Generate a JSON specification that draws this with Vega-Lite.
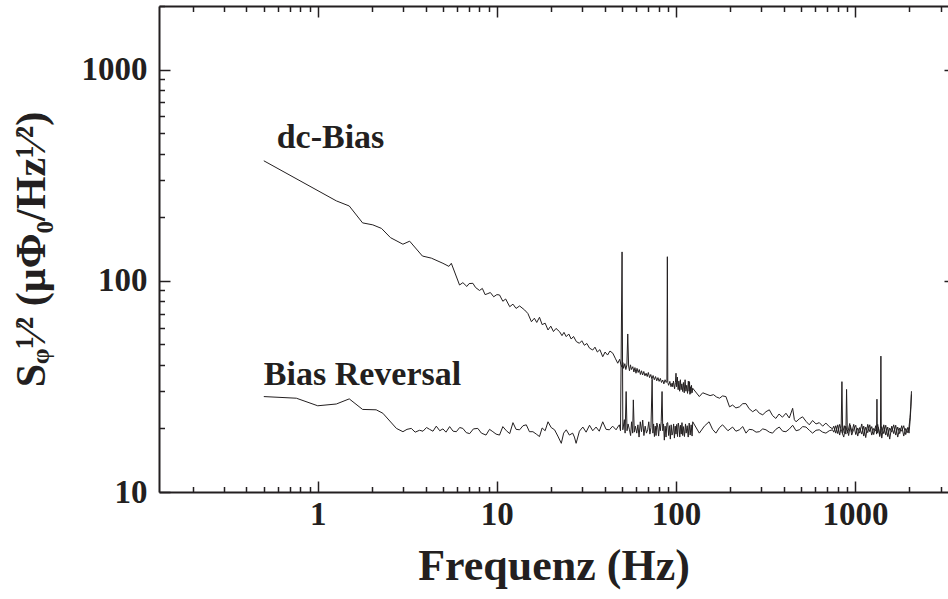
{
  "$schema": "https://vega.github.io/schema/vega-lite/v6.json",
  "width": 789,
  "height": 486,
  "autosize": {"type": "none"},
  "padding": {"left": 159, "top": 6, "right": 0, "bottom": 107},
  "background": "white",
  "config": {
    "view": {"stroke": null},
    "axis": {
      "grid": false,
      "domainColor": "#231f20",
      "domainWidth": 2,
      "tickColor": "#231f20",
      "tickWidth": 1.5,
      "labelFont": "Liberation Serif",
      "labelFontWeight": "bold",
      "labelFontSize": 33,
      "labelColor": "#231f20",
      "titleFont": "Liberation Serif",
      "titleFontWeight": "bold",
      "titleColor": "#231f20"
    }
  },
  "datasets": {
    "spec": [
      {"s":"dc","f":0.5,"v":370},{"s":"dc","f":1.27,"v":239},{"s":"dc","f":1.5,"v":226},{"s":"dc","f":1.78,"v":188},{"s":"dc","f":2.03,"v":184},{"s":"dc","f":2.27,"v":177},{"s":"dc","f":2.55,"v":160},{"s":"dc","f":2.99,"v":149},{"s":"dc","f":3.26,"v":154},{"s":"dc","f":3.84,"v":131},{"s":"dc","f":4.31,"v":128},{"s":"dc","f":5.0,"v":121},{"s":"dc","f":5.4,"v":117},{"s":"dc","f":5.57,"v":121},{"s":"dc","f":6.19,"v":95.5},{"s":"dc","f":6.46,"v":98},{"s":"dc","f":6.8,"v":94},{"s":"dc","f":7.0,"v":97},{"s":"dc","f":7.35,"v":97.3},{"s":"dc","f":7.6,"v":93},{"s":"dc","f":8.0,"v":90},{"s":"dc","f":8.3,"v":92},{"s":"dc","f":8.6,"v":86},{"s":"dc","f":8.91,"v":87},{"s":"dc","f":9.2,"v":88},{"s":"dc","f":9.6,"v":84},{"s":"dc","f":10.0,"v":86},
      {"s":"dc","f":10.35,"v":85.7},{"s":"dc","f":10.8,"v":80},{"s":"dc","f":11.2,"v":82},{"s":"dc","f":11.8,"v":75.4},{"s":"dc","f":12.3,"v":77.5},{"s":"dc","f":12.8,"v":74},{"s":"dc","f":13.4,"v":76},{"s":"dc","f":14.3,"v":72.7},{"s":"dc","f":14.9,"v":70},{"s":"dc","f":15.6,"v":64},{"s":"dc","f":16.2,"v":66.5},{"s":"dc","f":16.7,"v":63.5},{"s":"dc","f":17.3,"v":67.2},{"s":"dc","f":17.9,"v":62},{"s":"dc","f":18.6,"v":63},{"s":"dc","f":19.3,"v":58.5},{"s":"dc","f":20.0,"v":61},{"s":"dc","f":20.7,"v":57.5},{"s":"dc","f":21.4,"v":59.5},{"s":"dc","f":22.4,"v":57.4},{"s":"dc","f":23.1,"v":55},{"s":"dc","f":23.7,"v":57},{"s":"dc","f":24.4,"v":54.4},{"s":"dc","f":25.2,"v":56},{"s":"dc","f":26,"v":53},{"s":"dc","f":26.8,"v":54.5},{"s":"dc","f":27.8,"v":51.5},{"s":"dc","f":28.9,"v":50.6},{"s":"dc","f":29.8,"v":52},{"s":"dc","f":30.8,"v":49.5},{"s":"dc","f":31.8,"v":50.5},{"s":"dc","f":32.9,"v":48},{"s":"dc","f":34.3,"v":47},{"s":"dc","f":35.3,"v":48.5},{"s":"dc","f":36.4,"v":46},{"s":"dc","f":37.6,"v":47.2},{"s":"dc","f":39.0,"v":43.7},{"s":"dc","f":40.2,"v":46},{"s":"dc","f":41.5,"v":44.5},{"s":"dc","f":42.8,"v":46.5},{"s":"dc","f":44.4,"v":45.4},{"s":"dc","f":45.8,"v":43},{"s":"dc","f":47.3,"v":40.7},{"s":"dc","f":48.5,"v":42.5},{"s":"dc","f":49.3,"v":40},
      {"s":"dc","f":50,"v":39},{"s":"dc","f":50.5,"v":41},{"s":"dc","f":51,"v":38.5},{"s":"dc","f":51.8,"v":40.5},{"s":"dc","f":52.5,"v":38},{"s":"dc","f":53.2,"v":40},{"s":"dc","f":53.8,"v":56},{"s":"dc","f":54.4,"v":39.5},{"s":"dc","f":55,"v":37.5},{"s":"dc","f":55.7,"v":40},{"s":"dc","f":56.4,"v":38},{"s":"dc","f":57.4,"v":39.2},{"s":"dc","f":58.2,"v":37},{"s":"dc","f":59,"v":38.8},{"s":"dc","f":59.8,"v":36.5},{"s":"dc","f":60.6,"v":38.5},{"s":"dc","f":61.5,"v":36.8},{"s":"dc","f":62.4,"v":38},{"s":"dc","f":63.3,"v":36},{"s":"dc","f":64.2,"v":37.5},{"s":"dc","f":65.1,"v":35.8},{"s":"dc","f":66.1,"v":37.2},{"s":"dc","f":67.1,"v":35.5},{"s":"dc","f":68.1,"v":36.5},{"s":"dc","f":69.1,"v":35.2},{"s":"dc","f":70.1,"v":36.8},{"s":"dc","f":71.2,"v":34.8},{"s":"dc","f":72.3,"v":36},{"s":"dc","f":73.4,"v":34.3},{"s":"dc","f":74.5,"v":35.6},{"s":"dc","f":75.7,"v":34},{"s":"dc","f":76.9,"v":35.2},{"s":"dc","f":78.1,"v":33.6},{"s":"dc","f":79.3,"v":34.8},{"s":"dc","f":80.5,"v":33.4},{"s":"dc","f":81.8,"v":34.5},{"s":"dc","f":83,"v":33},{"s":"dc","f":84.3,"v":33.9},{"s":"dc","f":85.6,"v":32.5},{"s":"dc","f":86.9,"v":34},{"s":"dc","f":88.2,"v":33},{"s":"dc","f":89,"v":33.5},{"s":"dc","f":89.5,"v":130},{"s":"dc","f":90,"v":33},{"s":"dc","f":91,"v":32},{"s":"dc","f":92.4,"v":33.4},{"s":"dc","f":93.8,"v":31.5},{"s":"dc","f":95.2,"v":32.8},{"s":"dc","f":95.9,"v":31.5},{"s":"dc","f":96.8,"v":33.5},{"s":"dc","f":98.2,"v":30.8},{"s":"dc","f":99.3,"v":33},{"s":"dc","f":100,"v":36.5},{"s":"dc","f":100.8,"v":31.5},{"s":"dc","f":101.8,"v":35},{"s":"dc","f":102.8,"v":30.5},{"s":"dc","f":103.8,"v":33.5},{"s":"dc","f":104.8,"v":30},{"s":"dc","f":105.8,"v":34},{"s":"dc","f":106.8,"v":30.5},{"s":"dc","f":107.8,"v":32.5},{"s":"dc","f":109,"v":29.9},{"s":"dc","f":110,"v":33},{"s":"dc","f":111.2,"v":29.5},{"s":"dc","f":112.4,"v":34},{"s":"dc","f":113.6,"v":30},{"s":"dc","f":114.8,"v":32},{"s":"dc","f":116,"v":29.3},{"s":"dc","f":117.2,"v":33.5},{"s":"dc","f":118.4,"v":30},{"s":"dc","f":119,"v":33.3},{"s":"dc","f":119.6,"v":29},{"s":"dc","f":120.5,"v":31.5},{"s":"dc","f":121,"v":29.3},{"s":"dc","f":122,"v":32},{"s":"dc","f":123,"v":29.5},{"s":"dc","f":124,"v":31},
      {"s":"dc","f":135,"v":28.3},{"s":"dc","f":141,"v":29.5},{"s":"dc","f":147,"v":29.1},{"s":"dc","f":155,"v":28.6},{"s":"dc","f":162,"v":28.9},{"s":"dc","f":168,"v":28.2},{"s":"dc","f":175,"v":27.8},{"s":"dc","f":182,"v":28.5},{"s":"dc","f":190,"v":28.3},{"s":"dc","f":199,"v":25.3},{"s":"dc","f":207,"v":25.8},{"s":"dc","f":216,"v":25.0},{"s":"dc","f":226,"v":25.3},{"s":"dc","f":236,"v":26.2},{"s":"dc","f":246,"v":26.2},{"s":"dc","f":256,"v":24.8},{"s":"dc","f":268,"v":24.0},{"s":"dc","f":280,"v":24.6},{"s":"dc","f":292,"v":23.6},{"s":"dc","f":305,"v":23.2},{"s":"dc","f":318,"v":24.0},{"s":"dc","f":332,"v":24.5},{"s":"dc","f":346,"v":23.0},{"s":"dc","f":361,"v":22.3},{"s":"dc","f":376,"v":23.4},{"s":"dc","f":393,"v":22.6},{"s":"dc","f":411,"v":23.6},{"s":"dc","f":429,"v":22.4},{"s":"dc","f":448,"v":24.9},{"s":"dc","f":458,"v":22.0},{"s":"dc","f":468,"v":21.5},{"s":"dc","f":488,"v":22.2},{"s":"dc","f":509,"v":22.7},{"s":"dc","f":532,"v":21.6},{"s":"dc","f":555,"v":20.8},{"s":"dc","f":579,"v":21.8},{"s":"dc","f":605,"v":21.0},{"s":"dc","f":631,"v":21.3},{"s":"dc","f":659,"v":20.5},{"s":"dc","f":687,"v":21.2},{"s":"dc","f":717,"v":20.4},{"s":"dc","f":748,"v":19.9},
      {"s":"dc","f":760,"v":20.5},{"s":"dc","f":780,"v":19.0},{"s":"dc","f":800,"v":20.8},{"s":"dc","f":820,"v":18.6},{"s":"dc","f":836,"v":20.3},{"s":"dc","f":844,"v":33.3},{"s":"dc","f":852,"v":19.0},{"s":"dc","f":870,"v":20.6},{"s":"dc","f":888,"v":18.8},{"s":"dc","f":896,"v":30.6},{"s":"dc","f":904,"v":19.8},{"s":"dc","f":920,"v":18.5},{"s":"dc","f":940,"v":20.7},{"s":"dc","f":960,"v":19.2},{"s":"dc","f":982,"v":20.9},{"s":"dc","f":1008,"v":18.7},{"s":"dc","f":1034,"v":20.1},{"s":"dc","f":1061,"v":19.0},{"s":"dc","f":1089,"v":21.0},{"s":"dc","f":1117,"v":18.4},{"s":"dc","f":1146,"v":20.3},{"s":"dc","f":1176,"v":19.1},{"s":"dc","f":1207,"v":20.8},{"s":"dc","f":1238,"v":18.6},{"s":"dc","f":1270,"v":20.0},{"s":"dc","f":1303,"v":19.5},{"s":"dc","f":1337,"v":20.9},{"s":"dc","f":1372,"v":18.5},{"s":"dc","f":1408,"v":20.4},{"s":"dc","f":1445,"v":18.9},{"s":"dc","f":1482,"v":20.7},{"s":"dc","f":1521,"v":18.3},{"s":"dc","f":1560,"v":20.1},{"s":"dc","f":1601,"v":19.2},{"s":"dc","f":1642,"v":20.8},{"s":"dc","f":1685,"v":18.6},{"s":"dc","f":1729,"v":20.3},{"s":"dc","f":1774,"v":18.9},{"s":"dc","f":1820,"v":20.6},{"s":"dc","f":1868,"v":18.4},{"s":"dc","f":1916,"v":20.0},{"s":"dc","f":1966,"v":19.1},{"s":"dc","f":2000,"v":20.4},{"s":"dc","f":2025,"v":22.5},{"s":"dc","f":2045,"v":25.5},{"s":"dc","f":2063,"v":30},

      {"s":"br","f":0.5,"v":28.3},{"s":"br","f":0.76,"v":27.8},{"s":"br","f":1.0,"v":25.6},{"s":"br","f":1.27,"v":26.1},{"s":"br","f":1.5,"v":27.6},{"s":"br","f":1.78,"v":24.6},{"s":"br","f":2.12,"v":24.5},{"s":"br","f":2.31,"v":23.6},{"s":"br","f":2.75,"v":20.0},{"s":"br","f":2.99,"v":19.3},{"s":"br","f":3.15,"v":19.8},{"s":"br","f":3.33,"v":20.0},{"s":"br","f":3.5,"v":19.2},{"s":"br","f":3.7,"v":19.6},{"s":"br","f":3.87,"v":19.4},{"s":"br","f":4.05,"v":20.2},{"s":"br","f":4.21,"v":19.8},{"s":"br","f":4.4,"v":19.4},{"s":"br","f":4.59,"v":20.5},{"s":"br","f":4.8,"v":19.5},{"s":"br","f":5.0,"v":19.9},{"s":"br","f":5.2,"v":19.2},{"s":"br","f":5.45,"v":20.4},{"s":"br","f":5.7,"v":19.4},{"s":"br","f":5.94,"v":19.3},{"s":"br","f":6.2,"v":20.2},{"s":"br","f":6.46,"v":20.0},{"s":"br","f":6.75,"v":19.1},{"s":"br","f":7.05,"v":18.9},{"s":"br","f":7.4,"v":19.9},{"s":"br","f":7.83,"v":20.0},{"s":"br","f":8.2,"v":19.0},{"s":"br","f":8.7,"v":18.6},{"s":"br","f":9.1,"v":19.8},{"s":"br","f":9.5,"v":19.3},{"s":"br","f":9.9,"v":18.8},
      {"s":"br","f":10.35,"v":18.6},{"s":"br","f":10.8,"v":20.4},{"s":"br","f":11.3,"v":19.5},{"s":"br","f":11.8,"v":18.9},{"s":"br","f":12.3,"v":21.3},{"s":"br","f":12.8,"v":19.8},{"s":"br","f":13.4,"v":19.7},{"s":"br","f":14,"v":20.6},{"s":"br","f":14.6,"v":20.8},{"s":"br","f":15.2,"v":19.3},{"s":"br","f":15.9,"v":19.3},{"s":"br","f":16.6,"v":18.8},{"s":"br","f":17.3,"v":18.3},{"s":"br","f":17.9,"v":20.1},{"s":"br","f":18.6,"v":19.5},{"s":"br","f":19.3,"v":21.5},{"s":"br","f":20.1,"v":20.2},{"s":"br","f":21,"v":19.7},{"s":"br","f":21.9,"v":18.4},{"s":"br","f":22.9,"v":17},{"s":"br","f":23.6,"v":19},{"s":"br","f":24.4,"v":19.7},{"s":"br","f":25.4,"v":18.6},{"s":"br","f":26.5,"v":19},{"s":"br","f":27.1,"v":18.2},{"s":"br","f":27.7,"v":17},{"s":"br","f":28.9,"v":19.4},{"s":"br","f":30.2,"v":20.3},{"s":"br","f":31.5,"v":19.2},{"s":"br","f":32.9,"v":20.7},{"s":"br","f":34.3,"v":19.5},{"s":"br","f":35.8,"v":20.3},{"s":"br","f":37.3,"v":19.4},{"s":"br","f":39,"v":21.5},{"s":"br","f":40.7,"v":19.8},{"s":"br","f":42.5,"v":19.7},{"s":"br","f":44.3,"v":20.5},{"s":"br","f":46.3,"v":19.7},{"s":"br","f":47.3,"v":20.3},
      {"s":"br","f":48.3,"v":20.8},{"s":"br","f":49,"v":19.5},{"s":"br","f":50,"v":137},{"s":"br","f":50.5,"v":19.7},{"s":"br","f":51.5,"v":22},{"s":"br","f":52,"v":19},{"s":"br","f":52.7,"v":29.9},{"s":"br","f":53.3,"v":19.5},{"s":"br","f":54,"v":21},{"s":"br","f":55,"v":19.7},{"s":"br","f":55.8,"v":18.5},{"s":"br","f":56.5,"v":21.5},{"s":"br","f":57.3,"v":19},{"s":"br","f":57.8,"v":27.3},{"s":"br","f":58.5,"v":19.2},{"s":"br","f":59.3,"v":20.5},{"s":"br","f":60.4,"v":19},{"s":"br","f":61.3,"v":20.8},{"s":"br","f":62.2,"v":18.2},{"s":"br","f":63.2,"v":21.5},{"s":"br","f":64.2,"v":19.3},{"s":"br","f":65.2,"v":21.9},{"s":"br","f":66.2,"v":18.5},{"s":"br","f":67.3,"v":20.5},{"s":"br","f":68.4,"v":19.0},{"s":"br","f":69.5,"v":19.7},{"s":"br","f":70.5,"v":21.5},{"s":"br","f":71.5,"v":18.8},{"s":"br","f":72.5,"v":20.2},{"s":"br","f":73.6,"v":34.2},{"s":"br","f":74.3,"v":19},{"s":"br","f":75,"v":21},{"s":"br","f":75.8,"v":18.3},{"s":"br","f":76.6,"v":20.5},{"s":"br","f":77.4,"v":18.5},{"s":"br","f":78.2,"v":21.2},{"s":"br","f":79.1,"v":20.3},{"s":"br","f":80,"v":18.4},{"s":"br","f":81,"v":21},{"s":"br","f":81.8,"v":19.5},{"s":"br","f":82.7,"v":21.5},{"s":"br","f":83.6,"v":29.9},{"s":"br","f":84.4,"v":19.5},{"s":"br","f":85.2,"v":21},{"s":"br","f":86.1,"v":17.6},{"s":"br","f":87,"v":20.5},{"s":"br","f":88,"v":18.2},{"s":"br","f":89,"v":21.2},{"s":"br","f":89.9,"v":21.3},{"s":"br","f":91,"v":18.5},{"s":"br","f":92,"v":20.6},{"s":"br","f":93,"v":17.8},{"s":"br","f":94,"v":20.8},{"s":"br","f":95,"v":18.6},{"s":"br","f":95.9,"v":19},{"s":"br","f":97,"v":21},{"s":"br","f":98,"v":18},{"s":"br","f":99,"v":20.5},{"s":"br","f":100,"v":18.8},{"s":"br","f":101,"v":20.9},{"s":"br","f":102,"v":18.3},{"s":"br","f":103,"v":21.2},{"s":"br","f":104,"v":20.3},{"s":"br","f":105,"v":18.2},{"s":"br","f":106,"v":20.7},{"s":"br","f":107,"v":18.8},{"s":"br","f":108,"v":21.3},{"s":"br","f":109,"v":18.5},{"s":"br","f":110,"v":20.4},{"s":"br","f":111.5,"v":18.3},{"s":"br","f":113,"v":21},{"s":"br","f":114,"v":19},{"s":"br","f":115.5,"v":20.6},{"s":"br","f":117,"v":18.2},{"s":"br","f":118.5,"v":21.2},{"s":"br","f":120,"v":18.6},{"s":"br","f":121.5,"v":20.8},{"s":"br","f":123,"v":18.4},{"s":"br","f":124,"v":21.5},
      {"s":"br","f":135,"v":19.0},{"s":"br","f":144,"v":20.5},{"s":"br","f":153,"v":21.5},{"s":"br","f":160,"v":19.8},{"s":"br","f":167,"v":19.0},{"s":"br","f":175,"v":20.2},{"s":"br","f":182,"v":20.8},{"s":"br","f":195,"v":19.5},{"s":"br","f":207,"v":20.3},{"s":"br","f":216,"v":19.4},{"s":"br","f":226,"v":19.7},{"s":"br","f":236,"v":20.4},{"s":"br","f":246,"v":19.0},{"s":"br","f":256,"v":19.8},{"s":"br","f":268,"v":19.7},{"s":"br","f":280,"v":19.2},{"s":"br","f":292,"v":19.3},{"s":"br","f":305,"v":19.9},{"s":"br","f":318,"v":19.7},{"s":"br","f":332,"v":19.2},{"s":"br","f":346,"v":19.0},{"s":"br","f":361,"v":19.8},{"s":"br","f":377,"v":20.3},{"s":"br","f":394,"v":19.4},{"s":"br","f":411,"v":19.3},{"s":"br","f":430,"v":19.9},{"s":"br","f":448,"v":20.7},{"s":"br","f":468,"v":19.5},{"s":"br","f":488,"v":19.7},{"s":"br","f":510,"v":20.4},{"s":"br","f":532,"v":20.3},{"s":"br","f":555,"v":19.6},{"s":"br","f":579,"v":19.0},{"s":"br","f":605,"v":19.6},{"s":"br","f":631,"v":19.7},{"s":"br","f":659,"v":19.2},{"s":"br","f":687,"v":19.0},{"s":"br","f":717,"v":19.5},{"s":"br","f":748,"v":19.7},
      {"s":"br","f":760,"v":19.2},{"s":"br","f":780,"v":20.6},{"s":"br","f":800,"v":18.9},{"s":"br","f":820,"v":20.9},{"s":"br","f":842,"v":19.3},{"s":"br","f":864,"v":18.2},{"s":"br","f":886,"v":20.5},{"s":"br","f":909,"v":19.0},{"s":"br","f":933,"v":21.1},{"s":"br","f":957,"v":18.6},{"s":"br","f":982,"v":19.8},{"s":"br","f":1008,"v":20.7},{"s":"br","f":1034,"v":18.4},{"s":"br","f":1061,"v":20.2},{"s":"br","f":1089,"v":18.8},{"s":"br","f":1117,"v":20.5},{"s":"br","f":1146,"v":18.1},{"s":"br","f":1176,"v":20.9},{"s":"br","f":1207,"v":19.3},{"s":"br","f":1238,"v":20.4},{"s":"br","f":1270,"v":18.7},{"s":"br","f":1303,"v":20.6},{"s":"br","f":1318,"v":18.8},{"s":"br","f":1324,"v":27.5},{"s":"br","f":1330,"v":19.0},{"s":"br","f":1350,"v":20.2},{"s":"br","f":1372,"v":18.3},{"s":"br","f":1385,"v":19.9},{"s":"br","f":1393,"v":44},{"s":"br","f":1400,"v":19.2},{"s":"br","f":1408,"v":18.0},{"s":"br","f":1445,"v":20.8},{"s":"br","f":1482,"v":18.6},{"s":"br","f":1521,"v":20.3},{"s":"br","f":1560,"v":17.8},{"s":"br","f":1601,"v":20.5},{"s":"br","f":1642,"v":18.9},{"s":"br","f":1685,"v":20.7},{"s":"br","f":1729,"v":18.2},{"s":"br","f":1774,"v":20.1},{"s":"br","f":1820,"v":19.4},{"s":"br","f":1868,"v":20.6},{"s":"br","f":1916,"v":18.7},{"s":"br","f":1966,"v":20.2},{"s":"br","f":2000,"v":19.0},{"s":"br","f":2025,"v":21.5},{"s":"br","f":2045,"v":24.5},{"s":"br","f":2063,"v":29}
    ],
    "labels": [
      {"f": 0.59, "v": 426, "t": "dc-Bias"},
      {"f": 0.5, "v": 32.1, "t": "Bias Reversal"}
    ]
  },
  "layer": [
    {
      "data": {"name": "spec"},
      "mark": {"type": "line", "color": "#231f20", "strokeWidth": 1, "clip": true},
      "encoding": {
        "x": {
          "field": "f", "type": "quantitative",
          "scale": {"type": "log", "domain": [0.13, 3300], "nice": false},
          "axis": {
            "orient": "bottom",
            "values": [0.2,0.3,0.4,0.5,0.6,0.7,0.8,0.9,1,2,3,4,5,6,7,8,9,10,20,30,40,50,60,70,80,90,100,200,300,400,500,600,700,800,900,1000,2000,3000],
            "tickSize": {"condition": {"test": "indexof([1,10,100,1000], datum.value) >= 0", "value": -11}, "value": -5.5},
            "labelExpr": "indexof([1,10,100,1000], datum.value) >= 0 ? '' + datum.value : ''",
            "labelPadding": 17,
            "labelFlush": false,
            "labelOverlap": false,
            "title": "Frequenz (Hz)",
            "titleFontSize": 44,
            "titlePadding": 8
          }
        },
        "y": {
          "field": "v", "type": "quantitative",
          "scale": {"type": "log", "domain": [10, 2000], "nice": false},
          "axis": {
            "orient": "left",
            "values": [10,20,30,40,50,60,70,80,90,100,200,300,400,500,600,700,800,900,1000,2000],
            "tickSize": {"condition": {"test": "indexof([10,100,1000], datum.value) >= 0", "value": -11}, "value": -5.5},
            "labelExpr": "indexof([10,100,1000], datum.value) >= 0 ? '' + datum.value : ''",
            "labelPadding": 23,
            "labelFlush": false,
            "labelOverlap": false,
            "title": "Sᵩ¹⁄² (μΦ₀/Hz¹⁄²)",
            "titleFontSize": 42,
            "titlePadding": 28
          }
        },
        "detail": {"field": "s", "type": "nominal"}
      }
    },
    {
      "data": {"name": "labels"},
      "mark": {"type": "text", "align": "left", "baseline": "alphabetic", "font": "Liberation Serif", "fontWeight": "bold", "fontSize": 34, "color": "#231f20"},
      "encoding": {
        "x": {
          "field": "f", "type": "quantitative",
          "scale": {"type": "log", "domain": [0.13, 3300], "nice": false},
          "axis": {
            "orient": "top",
            "values": [0.2,0.3,0.4,0.5,0.6,0.7,0.8,0.9,1,2,3,4,5,6,7,8,9,10,20,30,40,50,60,70,80,90,100,200,300,400,500,600,700,800,900,1000,2000,3000],
            "tickSize": {"condition": {"test": "indexof([1,10,100,1000], datum.value) >= 0", "value": -11}, "value": -5.5},
            "labels": false,
            "title": null
          }
        },
        "y": {
          "field": "v", "type": "quantitative",
          "scale": {"type": "log", "domain": [10, 2000], "nice": false},
          "axis": {
            "orient": "right",
            "domain": false,
            "values": [100, 1000],
            "tickSize": -4,
            "labels": false,
            "title": null
          }
        },
        "text": {"field": "t", "type": "nominal"}
      }
    }
  ],
  "resolve": {"axis": {"x": "independent", "y": "independent"}}
}
